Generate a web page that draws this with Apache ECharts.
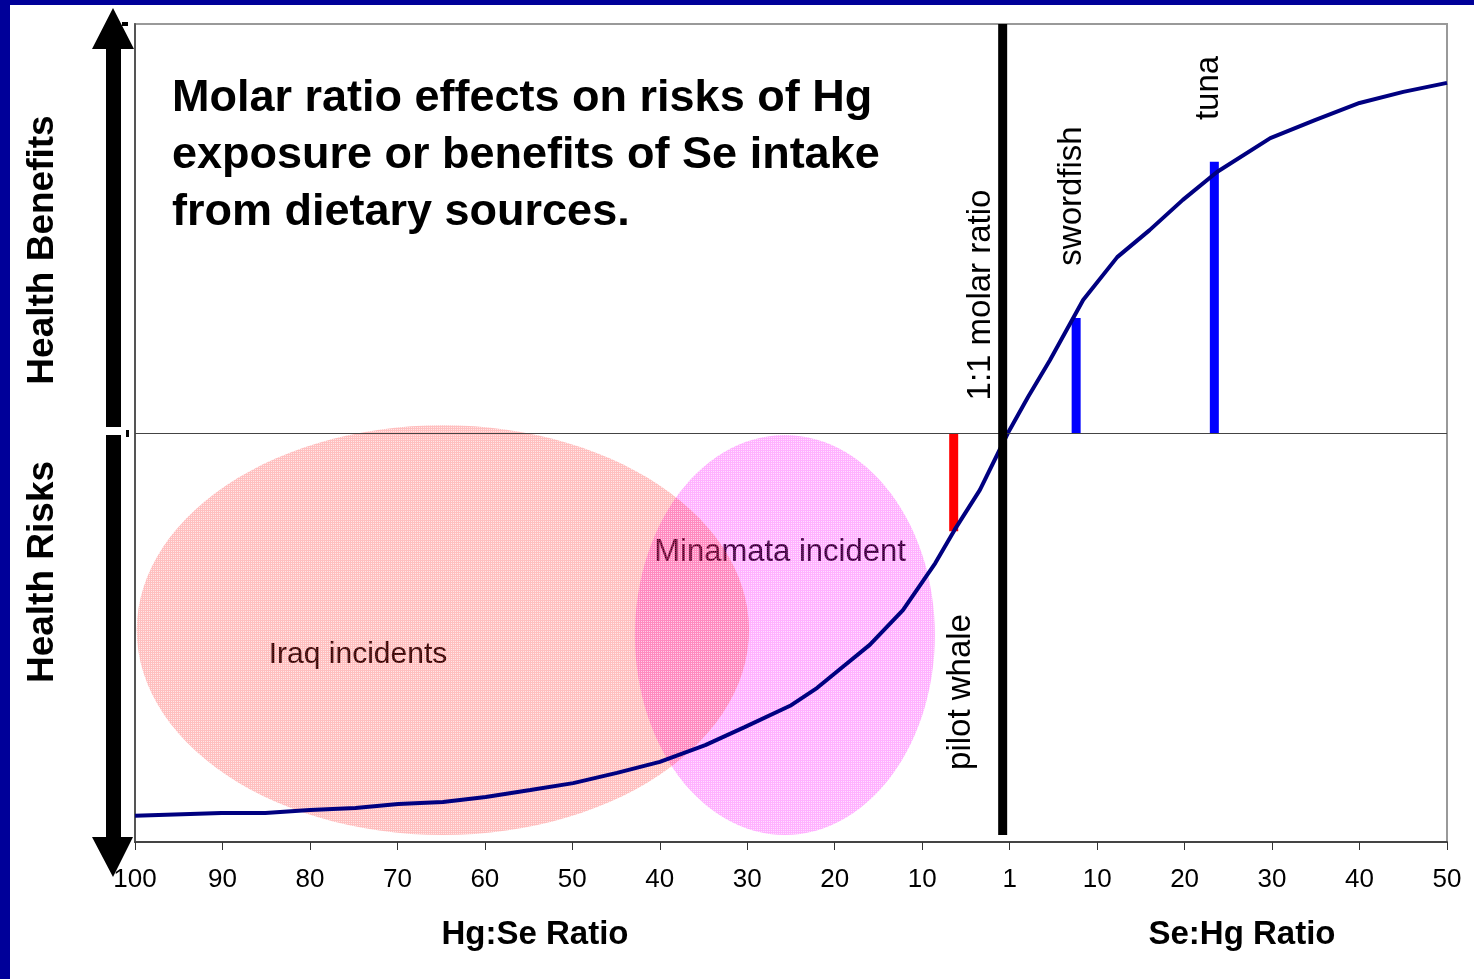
<!DOCTYPE html>
<html>
<head>
<meta charset="utf-8">
<script src="https://cdn.jsdelivr.net/npm/echarts@6.0.0/dist/echarts.min.js"></script>
<style>
html,body{margin:0;padding:0;background:#fff;}
#c{width:1474px;height:979px;}
</style>
</head>
<body>
<div id="c"></div>
<script>
// ---- data ----
// x positions are tick indices (0 = "100" Hg:Se ... 10 = "1" ... 15 = "50" Se:Hg)
const xTickLabels = ['100','90','80','70','60','50','40','30','20','10','1','10','20','30','40','50'];
// y: -100 = maximal health risk, 0 = neutral, +100 = maximal health benefit
const curveX = [0, 0.99, 1.49, 2.0, 2.52, 3.01, 3.52, 4.01, 4.52, 5.01, 5.51, 6.0, 6.52, 6.97, 7.49, 7.80, 8.09, 8.40, 8.78, 9.15, 9.37, 9.66, 9.98, 10.21, 10.46, 10.84, 11.23, 11.60, 11.98, 12.37, 12.98, 13.49, 14.0, 14.50, 15.0];
const curveY = [-93.6, -92.9, -92.9, -92.2, -91.7, -90.7, -90.2, -89.0, -87.3, -85.6, -83.1, -80.4, -76.3, -71.9, -66.7, -62.3, -57.2, -51.8, -43.3, -31.8, -23.7, -13.9, 0, 8.8, 17.8, 32.5, 43.0, 49.6, 57.0, 63.8, 72.1, 76.5, 80.7, 83.4, 85.6];

const oneToOneX = 9.92;
const oneToOneRange = [-98.3, 100];

const markerNames = ['pilot whale', 'swordfish', 'tuna'];
const markerX = [9.36, 10.76, 12.34];
const markerY = [-24.0, 28.1, 66.3];

const incidentNames = ['Minamata incident', 'Iraq incidents'];
const incidentCenterX = [7.43, 3.52];
const incidentCenterY = [-49.4, -48.2];
const incidentRadiusX = [1.715, 3.50];
const incidentRadiusY = [48.9, 50.1];

// ---- chart ----
const FONT = '"Liberation Sans", Arial, sans-serif';
const chart = echarts.init(document.getElementById('c'), null, {renderer: 'canvas', width: 1474, height: 979});

function makePattern(strong, weak) {
  const cv = document.createElement('canvas');
  cv.width = 2; cv.height = 2;
  const ctx = cv.getContext('2d');
  ctx.fillStyle = strong; ctx.fillRect(0, 0, 2, 2);
  ctx.clearRect(1, 1, 1, 1);
  ctx.fillStyle = weak; ctx.fillRect(1, 1, 1, 1);
  return {image: cv, repeat: 'repeat'};
}
const incidentFill = [
  makePattern('rgba(255,40,255,0.36)', 'rgba(255,40,255,0.14)'),
  makePattern('rgba(255,60,60,0.33)', 'rgba(255,60,60,0.12)')
];
const markerColor = ['#ff0000', '#0000ff', '#0000ff'];

function txt(text, x, y, size, opts) {
  opts = opts || {};
  return {
    type: 'text', x: x, y: y, rotation: opts.rot || 0, z: opts.z || 0,
    style: {
      text: text, x: 0, y: 0,
      font: (opts.bold ? 'bold ' : '') + size + 'px ' + FONT,
      fill: opts.color || '#000',
      align: opts.align || 'center', textAlign: opts.align || 'center',
      verticalAlign: 'middle', textVerticalAlign: 'middle'
    }
  };
}

const option = {
  backgroundColor: '#ffffff',
  animation: false,
  grid: {left: 135, right: 27, top: 24, bottom: 137, show: true, borderColor: '#999', borderWidth: 2, containLabel: false, outerBoundsMode: 'none'},
  xAxis: {
    type: 'value', min: 0, max: 15, interval: 1,
    axisLine: {show: true, onZero: false, lineStyle: {color: '#444', width: 2}},
    axisTick: {show: true, length: 8, lineStyle: {color: '#333', width: 1}},
    axisLabel: {margin: 25, fontSize: 26, color: '#000', fontFamily: FONT,
      showMinLabel: true, showMaxLabel: true,
      formatter: function (v) { const l = xTickLabels[Math.round(v)]; return l === undefined ? '' : l; }},
    splitLine: {show: false}
  },
  yAxis: {
    type: 'value', min: -100, max: 100,
    axisLine: {show: true, onZero: false, lineStyle: {color: '#555', width: 2}},
    axisTick: {show: false}, axisLabel: {show: false}, splitLine: {show: false}
  },
  series: [
    {
      type: 'custom', name: 'incidents', silent: true, z: 2,
      data: incidentCenterX.map((x, i) => [x, incidentCenterY[i], incidentRadiusX[i], incidentRadiusY[i]]),
      renderItem: function (params, api) {
        const cx = api.value(0), cy = api.value(1), rx = api.value(2), ry = api.value(3);
        const pts = [];
        for (let k = 0; k < 120; k++) {
          const t = k / 120 * Math.PI * 2;
          pts.push(api.coord([cx + rx * Math.cos(t), cy + ry * Math.sin(t)]));
        }
        return {type: 'polygon', shape: {points: pts}, style: {fill: incidentFill[params.dataIndex], stroke: null}};
      }
    },
    {
      type: 'custom', name: 'markers', silent: true, z: 3,
      data: markerX.map((x, i) => [x, markerY[i]]),
      renderItem: function (params, api) {
        const p0 = api.coord([api.value(0), 0]);
        const p1 = api.coord([api.value(0), api.value(1)]);
        return {type: 'line', shape: {x1: p0[0], y1: p0[1], x2: p1[0], y2: p1[1]},
          style: {stroke: markerColor[params.dataIndex], lineWidth: 9, lineCap: 'butt'}};
      }
    },
    {
      type: 'line', name: 'curve', silent: true, z: 4,
      data: curveX.map((x, i) => [x, curveY[i]]),
      symbol: 'none', smooth: false,
      lineStyle: {color: '#000080', width: 4},
      markLine: {silent: true, symbol: 'none', label: {show: false},
        lineStyle: {color: '#444', width: 1, type: 'solid'},
        data: [{yAxis: 0}]}
    },
    {
      type: 'line', name: '1:1', silent: true, z: 5,
      data: oneToOneRange.map(y => [oneToOneX, y]),
      symbol: 'none', lineStyle: {color: '#000', width: 9, cap: 'butt'}
    }
  ],
  graphic: {elements: [
    {type: 'rect', shape: {x: 0, y: 0, width: 10, height: 979}, style: {fill: '#000099'}},
    {type: 'rect', shape: {x: 0, y: 0, width: 1474, height: 5}, style: {fill: '#000099'}},
    {type: 'polygon', shape: {points: [[113,8],[134,49],[121,49],[121,427],[106,427],[106,49],[92,49]]}, style: {fill: '#000'}},
    {type: 'polygon', shape: {points: [[106,435],[121,435],[121,837],[133,837],[113,877],[92,837],[106,837]]}, style: {fill: '#000'}},
    {type: 'rect', shape: {x: 126, y: 430, width: 3, height: 7}, style: {fill: '#000'}},
    {type: 'rect', shape: {x: 122, y: 22, width: 6, height: 4}, style: {fill: '#000'}},
    txt('Molar ratio effects on risks of Hg', 172, 99, 45, {bold: true, align: 'left'}),
    txt('exposure or benefits of Se intake', 172, 156, 45, {bold: true, align: 'left'}),
    txt('from dietary sources.', 172, 213, 45, {bold: true, align: 'left'}),
    txt('Health Benefits', 43, 250, 37, {bold: true, rot: Math.PI / 2}),
    txt('Health Risks', 43, 572, 37, {bold: true, rot: Math.PI / 2}),
    txt('1:1 molar ratio', 981, 295, 33, {rot: Math.PI / 2}),
    txt('swordfish', 1072, 196, 33, {rot: Math.PI / 2}),
    txt('tuna', 1209, 88, 33, {rot: Math.PI / 2}),
    txt('pilot whale', 961, 692, 33, {rot: Math.PI / 2}),
    txt('Minamata incident', 780, 552, 31),
    txt('Iraq incidents', 358, 655, 30),
    txt('Hg:Se Ratio', 535, 935, 33, {bold: true}),
    txt('Se:Hg Ratio', 1242, 935, 33, {bold: true})
  ]}
};
chart.setOption(option);
</script>
</body>
</html>
